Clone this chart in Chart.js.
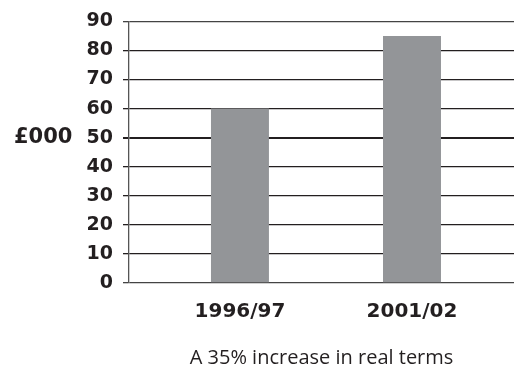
<!DOCTYPE html>
<html>
<head>
<meta charset="utf-8">
<script src="https://cdn.jsdelivr.net/npm/chart.js@4"></script>
<style>
  html, body { margin: 0; padding: 0; background: #fff; }
  #wrap { position: relative; width: 514px; height: 365px; }
</style>
</head>
<body>
<div id="wrap"><canvas id="spendChart"></canvas></div>
<script>
// spending, £000, real terms
const periods = ['1996/97', '2001/02'];
const spend = [60, 85];
const yTicks = [0, 10, 20, 30, 40, 50, 60, 70, 80, 90];
const unitLabel = '£000';
const caption = 'A 35% increase in real terms';

const BOLD_FONT = '"DejaVu Sans", sans-serif';
const TEXT_FONT = '"Open Sans", sans-serif';
const INK = '#231f20';

// draws the horizontal "£000" label level with the 50 line
const unitLabelPlugin = {
  id: 'unitLabel',
  afterDraw(chart) {
    const y = chart.scales.y.getPixelForValue(50);
    const ctx = chart.ctx;
    ctx.save();
    ctx.font = 'bold 21px ' + BOLD_FONT;
    ctx.fillStyle = INK;
    ctx.textBaseline = 'middle';
    ctx.textAlign = 'left';
    ctx.fillText(unitLabel, 14, y);
    ctx.restore();
  }
};

const ctx = document.getElementById('spendChart').getContext('2d');
new Chart(ctx, {
  type: 'bar',
  data: {
    datasets: [{
      data: spend.map((v, i) => ({ x: i + 1, y: v })),
      backgroundColor: '#939598',
      barPercentage: 1,
      categoryPercentage: 0.337
    }]
  },
  options: {
    responsive: true,
    maintainAspectRatio: false,
    animation: false,
    layout: { padding: { top: 16, right: 0, left: 0, bottom: 0 } },
    plugins: { legend: { display: false }, tooltip: { enabled: false } },
    scales: {
      x: {
        type: 'linear',
        offset: false,
        min: 0.355,
        max: 2.593,
        afterBuildTicks: scale => { scale.ticks = periods.map((p, i) => ({ value: i + 1 })); },
        grid: { display: false, drawTicks: false, offset: false },
        border: { display: false },
        ticks: {
          callback: v => periods[v - 1],
          font: { family: BOLD_FONT, size: 20, weight: 'bold' },
          color: INK,
          padding: 17,
          maxRotation: 0
        },
        title: {
          display: true,
          text: caption,
          font: { family: TEXT_FONT, size: 20, lineHeight: 1 },
          color: INK,
          padding: { top: 7, bottom: -3 }
        }
      },
      y: {
        min: 0,
        max: 90,
        afterBuildTicks: scale => { scale.ticks = yTicks.map(v => ({ value: v })); },
        grid: {
          color: c => (c.tick && (c.tick.value === 0 || c.tick.value === 90) ? '#444' : INK),
          lineWidth: c => (c.tick && c.tick.value === 50 ? 2 : 1.3),
          tickLength: 6
        },
        border: { display: true, color: '#555', width: 1.3 },
        ticks: {
          font: { family: BOLD_FONT, size: 19, weight: 'bold' },
          color: INK,
          padding: 10
        },
        afterFit: scale => { scale.width = 129; }
      }
    }
  },
  plugins: [unitLabelPlugin]
});
</script>
</body>
</html>
